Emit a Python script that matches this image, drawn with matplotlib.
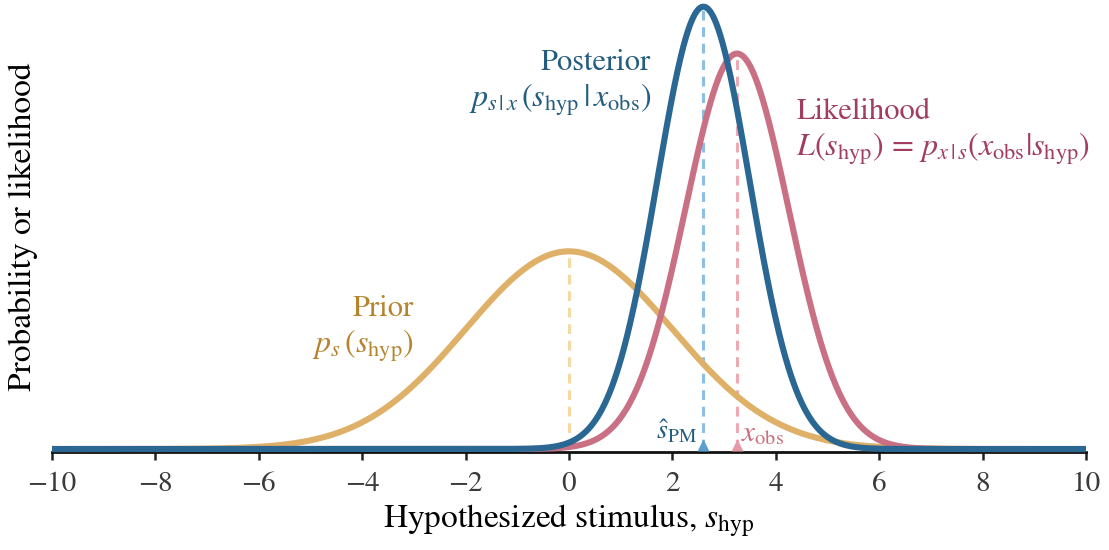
import numpy as np
import matplotlib
matplotlib.use("Agg")
import matplotlib.pyplot as plt

# ---- data ----
prior_mean = 0.0
prior_sd = 2.0
x_obs = 3.25
like_sd = 1.0
post_mean = 2.6
post_sd = 0.894
x_ticks = [-10, -8, -6, -4, -2, 0, 2, 4, 6, 8, 10]

plt.rcParams['font.family'] = ['STIXGeneral', 'DejaVu Serif']
plt.rcParams['mathtext.fontset'] = 'stix'

def gauss(x, m, s):
    return np.exp(-0.5 * ((x - m) / s) ** 2) / (s * np.sqrt(2 * np.pi))

c_prior, c_like, c_post = '#dfb067', '#c97085', '#2a6893'
c_prior_d, c_like_d, c_post_d = '#f5d9a2', '#eeaab3', '#8cbfe5'
t_prior, t_like, t_post = '#b5852e', '#a23d5f', '#235d7f'

fig = plt.figure(figsize=(11.09, 5.5), dpi=100)
ax = fig.add_axes([52 / 1109, 98 / 550, (1086 - 52) / 1109, 450 / 550])

xs = np.linspace(-10, 10, 2001)
lw = 4.4
dash = (0, (3.2, 2.2))

# dashed verticals
ax.plot([prior_mean, prior_mean], [0, gauss(prior_mean, prior_mean, prior_sd)],
        color=c_prior_d, ls=dash, lw=2.2, zorder=1)
ax.plot([x_obs, x_obs], [0, gauss(x_obs, x_obs, like_sd)],
        color=c_like_d, ls=dash, lw=2.2, zorder=1)
ax.plot([post_mean, post_mean], [0, gauss(post_mean, post_mean, post_sd)],
        color=c_post_d, ls=dash, lw=2.2, zorder=1)

ax.plot(xs, gauss(xs, prior_mean, prior_sd), color=c_prior, lw=lw, zorder=2,
        solid_capstyle='butt', clip_on=False)
ax.plot(xs, gauss(xs, x_obs, like_sd), color=c_like, lw=lw, zorder=3,
        solid_capstyle='butt', clip_on=False)
ax.plot(xs, gauss(xs, post_mean, post_sd), color=c_post, lw=lw, zorder=4,
        solid_capstyle='butt', clip_on=False)

# triangles at baseline
ax.plot([post_mean], [0.004], marker='^', color='#5b9fd0', ms=9, mec='none',
        zorder=5, clip_on=False)
ax.plot([x_obs], [0.004], marker='^', color='#e59aa4', ms=9, mec='none',
        zorder=5, clip_on=False)

ax.text(post_mean - 0.12, 0.004, r'$\hat{s}_{\mathrm{PM}}$', color=t_post,
        fontsize=20, ha='right', va='bottom')
ax.text(x_obs + 0.08, 0.002, r'$x_{\mathrm{obs}}$', color='#c9707f',
        fontsize=21, ha='left', va='bottom')

# annotations
fs = 22
ax.text(1.59, 0.389, 'Posterior', color=t_post, fontsize=fs, ha='right', va='center')
ax.text(1.59, 0.352, r'$p_{s\,|\,x}\,(s_{\mathrm{hyp}}\,|\,x_{\mathrm{obs}})$', color=t_post,
        fontsize=fs + 1, ha='right', va='center')
ax.text(4.4, 0.340, 'Likelihood', color=t_like, fontsize=fs, ha='left', va='center')
ax.text(4.4, 0.303,
        r'$L(s_{\mathrm{hyp}})\,=\,p_{x\,|\,s}(x_{\mathrm{obs}}|s_{\mathrm{hyp}})$',
        color=t_like, fontsize=fs + 1, ha='left', va='center')
ax.text(-3.0, 0.141, 'Prior', color=t_prior, fontsize=fs, ha='right', va='center')
ax.text(-3.0, 0.104, r'$p_s\,(s_{\mathrm{hyp}})$', color=t_prior, fontsize=fs + 1,
        ha='right', va='center')

ax.set_xlim(-10, 10)
ax.set_ylim(-0.003, 0.451)
ax.set_xticks(x_ticks)
ax.set_xticklabels([f'\u2212{abs(t)}' if t < 0 else str(t) for t in x_ticks])
ax.set_yticks([])
for s in ['top', 'right', 'left']:
    ax.spines[s].set_visible(False)
ax.spines['bottom'].set_linewidth(2.0)
ax.spines['bottom'].set_color('#111111')
ax.tick_params(axis='x', direction='out', length=6, width=1.8, colors='#222222',
               labelcolor='#3a3a3a', labelsize=21, pad=8)
ax.set_xlabel(r'Hypothesized stimulus, $s_{\mathrm{hyp}}$', fontsize=24, labelpad=4)
ax.set_ylabel('Probability or likelihood', fontsize=24, labelpad=10)

fig.savefig('out.png', dpi=100)
